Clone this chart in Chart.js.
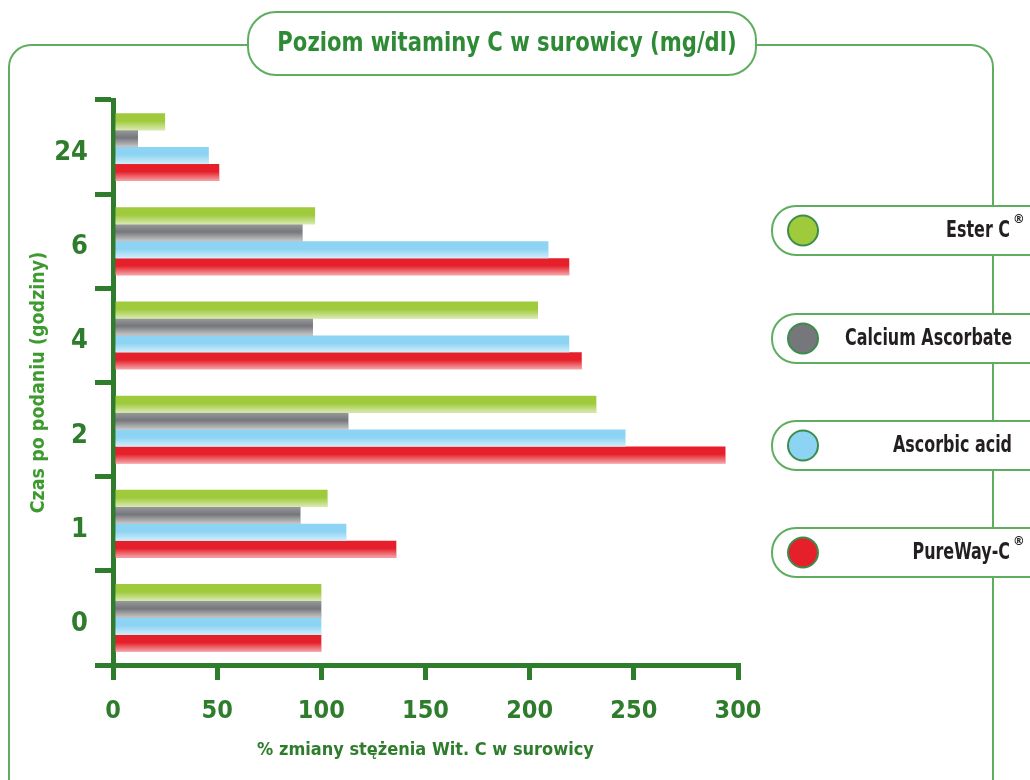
<!DOCTYPE html>
<html>
<head>
<meta charset="utf-8">
<script src="https://cdn.jsdelivr.net/npm/chart.js@4.4.0/dist/chart.umd.min.js"></script>
<style>
  html, body { margin: 0; padding: 0; background: #fff; }
  canvas { display: block; }
</style>
</head>
<body>
<canvas id="myChart" width="1030" height="780"></canvas>
<script>
// data
var categories = ['24', '6', '4', '2', '1', '0'];
var esterC = [25, 97, 204, 232, 103, 100];
var calciumAscorbate = [12, 91, 96, 113, 90, 100];
var ascorbicAcid = [46, 209, 219, 246, 112, 100];
var pureWay = [51, 219, 225, 294, 136, 100];
var seriesNames = ['Ester C®', 'Calcium Ascorbate', 'Ascorbic acid', 'PureWay-C®'];
var seriesColors = ['#9fca3c', '#76777b', '#8dd3f3', '#e5202a'];

var green = '#2f7d2c';
var lineGreen = '#5fae5f';
var font = "'Liberation Sans Narrow', 'DejaVu Sans Condensed', 'Liberation Sans', sans-serif";

function roundRect(ctx, x, y, w, h, r) {
    ctx.beginPath();
    ctx.moveTo(x + r, y);
    ctx.lineTo(x + w - r, y);
    ctx.arcTo(x + w, y, x + w, y + r, r);
    ctx.lineTo(x + w, y + h - r);
    ctx.arcTo(x + w, y + h, x + w - r, y + h, r);
    ctx.lineTo(x + r, y + h);
    ctx.arcTo(x, y + h, x, y + h - r, r);
    ctx.lineTo(x, y + r);
    ctx.arcTo(x, y, x + r, y, r);
    ctx.closePath();
}

// text squeezed sideways, the original font is a condensed one
function narrowText(ctx, text, x, y, sx) {
    ctx.save();
    ctx.translate(x, y);
    ctx.scale(sx, 1);
    ctx.fillText(text, 0, 0);
    ctx.restore();
}

// frame, title pill and legend pills
var decor = {
    id: 'decor',
    beforeDraw: function (chart) {
        var ctx = chart.ctx;
        ctx.save();
        ctx.strokeStyle = lineGreen;
        ctx.lineWidth = 2;
        roundRect(ctx, 9, 45, 984, 760, 22);
        ctx.stroke();

        // title
        roundRect(ctx, 248, 12, 508, 63, 28);
        ctx.fillStyle = '#fff';
        ctx.fill();
        ctx.stroke();
        ctx.fillStyle = '#2e8a34';
        ctx.font = 'bold 27px ' + font;
        ctx.textAlign = 'center';
        ctx.textBaseline = 'middle';
        narrowText(ctx, 'Poziom witaminy C w surowicy (mg/dl)', 507, 44, 0.87);
        ctx.restore();
    },
    afterDatasetsDraw: function (chart) {
        var ctx = chart.ctx;
        ctx.save();
        chart.data.datasets.forEach(function (ds, i) {
            var meta = chart.getDatasetMeta(i);
            meta.data.forEach(function (bar) {
                var p = bar.getProps(['x', 'y', 'base', 'height'], true);
                var top = p.y - p.height / 2;
                var g = ctx.createLinearGradient(0, top, 0, top + p.height);
                g.addColorStop(0, i == 1 ? 'rgba(255,255,255,0.25)' : 'rgba(255,255,255,0)');
                g.addColorStop(0.45, 'rgba(255,255,255,0)');
                g.addColorStop(1, 'rgba(255,255,255,0.6)');
                ctx.fillStyle = g;
                ctx.fillRect(p.base, top, p.x - p.base, p.height);
            });
        });
        ctx.restore();
    },
    afterDraw: function (chart) {
        var ctx = chart.ctx;
        var pillTops = [206, 314, 421, 528];
        ctx.save();
        chart.data.datasets.forEach(function (ds, i) {
            var y = pillTops[i];
            roundRect(ctx, 772, y, 290, 49, 24);
            ctx.fillStyle = '#fff';
            ctx.fill();
            ctx.strokeStyle = lineGreen;
            ctx.lineWidth = 2;
            ctx.stroke();

            ctx.beginPath();
            ctx.arc(803, y + 24.5, 15, 0, Math.PI * 2);
            ctx.fillStyle = ds.backgroundColor;
            ctx.fill();
            ctx.strokeStyle = '#3c8c4c';
            ctx.stroke();

            var label = ds.label;
            var reg = label.slice(-1) == '®';
            if (reg) label = label.slice(0, -1);
            ctx.fillStyle = '#231f20';
            ctx.font = 'bold 23px ' + font;
            ctx.textAlign = 'right';
            ctx.textBaseline = 'middle';
            narrowText(ctx, label, reg ? 1010 : 1012, y + 25, 0.77);
            if (reg) {
                ctx.font = 'bold 13px ' + font;
                ctx.textAlign = 'left';
                ctx.fillText('®', 1013, y + 14);
            }
        });
        ctx.restore();
    }
};

var ctx = document.getElementById('myChart');
var myChart = new Chart(ctx, {
    type: 'bar',
    data: {
        labels: categories,
        datasets: [
            { label: seriesNames[0], data: esterC, backgroundColor: seriesColors[0] },
            { label: seriesNames[1], data: calciumAscorbate, backgroundColor: seriesColors[1] },
            { label: seriesNames[2], data: ascorbicAcid, backgroundColor: seriesColors[2] },
            { label: seriesNames[3], data: pureWay, backgroundColor: seriesColors[3] }
        ]
    },
    options: {
        indexAxis: 'y',
        responsive: false,
        animation: false,
        devicePixelRatio: 1,
        categoryPercentage: 0.72,
        barPercentage: 1.0,
        layout: {
            padding: { left: 0, right: 292, top: 100, bottom: 0 }
        },
        plugins: {
            legend: { display: false },
            tooltip: { enabled: false }
        },
        scales: {
            x: {
                min: 0,
                max: 300,
                ticks: {
                    stepSize: 50,
                    color: green,
                    padding: 16,
                    font: { family: font, size: 25, weight: 'bold' }
                },
                grid: {
                    drawOnChartArea: false,
                    tickLength: 15,
                    color: green,
                    lineWidth: 5
                },
                border: { color: green, width: 5 },
                title: {
                    display: true,
                    text: '% zmiany stężenia Wit. C w surowicy',
                    color: green,
                    font: { family: font, size: 18, weight: 'bold' },
                    padding: { top: 0, bottom: 19 }
                },
                afterFit: function (scale) { scale.height = 115; }
            },
            y: {
                ticks: {
                    color: green,
                    padding: 7,
                    labelOffset: 6,
                    font: { family: font, size: 27, weight: 'bold' }
                },
                grid: {
                    offset: true,
                    drawOnChartArea: false,
                    tickLength: 18,
                    color: green,
                    lineWidth: 5
                },
                border: { color: green, width: 5 },
                title: {
                    display: true,
                    text: 'Czas po podaniu (godziny)',
                    color: '#3d9a2e',
                    font: { family: font, size: 19.5, weight: 'bold' },
                    padding: { top: 27, bottom: 0 }
                },
                afterFit: function (scale) { scale.width = 113; }
            }
        }
    },
    plugins: [decor]
});
</script>
</body>
</html>
